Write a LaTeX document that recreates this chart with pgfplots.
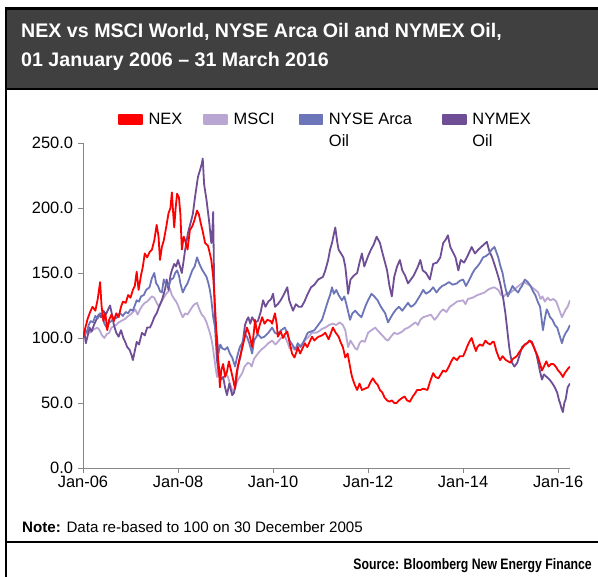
\documentclass[border=0pt]{standalone}
\usepackage{fontspec}
\setmainfont{Liberation Sans}
\usepackage{pgfplots}
\pgfplotsset{compat=1.18}
\definecolor{nexc}{HTML}{FF0000}
\definecolor{mscic}{HTML}{B9A6D2}
\definecolor{arcac}{HTML}{6C75B8}
\definecolor{nymexc}{HTML}{6F4E95}
\definecolor{banner}{HTML}{404040}
\definecolor{axisgray}{HTML}{868686}
\begin{document}
\begin{tikzpicture}[x=1bp,y=1bp]
\useasboundingbox (0,0) rectangle (598,577);
\fill[white] (0,0) rectangle (598,577);
\fill[banner] (6,488) rectangle (598,568.5);
\draw[black,line width=2.5bp] (6,568.5) -- (598,568.5);
\draw[black,line width=2.5bp] (6,488) -- (598,488);
\draw[black,line width=2.5bp] (6,0) -- (6,569.7);
\draw[black,line width=2bp] (6,35) -- (598,35);
\node[anchor=base west,inner sep=0pt,text=white,font=\fontsize{19.7}{22}\selectfont\bfseries] at (21,539) {NEX vs MSCI World, NYSE Arca Oil and NYMEX Oil,};
\node[anchor=base west,inner sep=0pt,text=white,font=\fontsize{19.7}{22}\selectfont\bfseries] at (21,510) {01 January 2006 – 31 March 2016};
\node[anchor=base west,inner sep=0pt,font=\fontsize{15.2}{17}\selectfont] at (22,44) {\textbf{Note:} Data re-based to 100 on 30 December 2005};
\node[anchor=base east,inner sep=0pt,font=\fontsize{15.2}{17}\selectfont\bfseries\addfontfeature{FakeStretch=0.81}] at (592,7) {Source: Bloomberg New Energy Finance};
\begin{axis}[
  at={(83bp,109bp)}, anchor=south west,
  scale only axis, width=487bp, height=325bp,
  xmin=2006, xmax=2016.25, ymin=0, ymax=250,
  axis x line*=bottom, axis y line*=left,
  axis line style={draw=axisgray, line width=0.8bp},
  tick style={draw=axisgray, line width=0.8bp},
  tick align=outside, major tick length=5bp,
  xtick={2006,2008,2010,2012,2014,2016},
  xticklabels={Jan-06,Jan-08,Jan-10,Jan-12,Jan-14,Jan-16},
  ytick={0,50,100,150,200,250},
  yticklabels={0.0,50.0,100.0,150.0,200.0,250.0},
  tick label style={font=\fontsize{16.5}{19}\selectfont},
  yticklabel style={xshift=-1.5bp},
  legend columns=4,
  legend style={draw=none, fill=none, inner sep=0pt, at={(0.0719,1.110)}, anchor=north west,
    font=\fontsize{16.5}{22}\selectfont,
    /tikz/every odd column/.append style={column sep=3.5bp},
    /tikz/column 2/.append style={column sep=19bp},
    /tikz/column 4/.append style={column sep=22bp},
    /tikz/column 6/.append style={column sep=28bp},
    cells={anchor=base west}},
  legend image code/.code={\fill[#1] (0bp,0.5bp) rectangle (23bp,10bp);},
  every axis plot/.append style={line width=1.8bp, line join=round},
]
\addlegendimage{nexc}
\addlegendentry{NEX}
\addlegendimage{mscic}
\addlegendentry{MSCI}
\addlegendimage{arcac}
\addlegendentry{\begin{tabular}[t]{@{}l@{}}NYSE Arca\\Oil\end{tabular}}
\addlegendimage{nymexc}
\addlegendentry{\begin{tabular}[t]{@{}l@{}}NYMEX\\Oil\end{tabular}}

% MSCI
\addplot[mscic, forget plot] coordinates {
(2006.00,100) (2006.05,103) (2006.10,105) (2006.15,104) (2006.20,106) (2006.25,107) (2006.30,108) (2006.35,106) (2006.40,102) (2006.45,100) (2006.50,103) (2006.55,104) (2006.60,108) (2006.65,109) (2006.70,110) (2006.75,112) (2006.80,113) (2006.85,114) (2006.90,115) (2006.95,117) (2007.00,118) (2007.05,120) (2007.10,122) (2007.15,118) (2007.20,122) (2007.25,125) (2007.30,127) (2007.35,128) (2007.40,130) (2007.45,132) (2007.50,131) (2007.55,127) (2007.60,124) (2007.65,128) (2007.70,131) (2007.75,134) (2007.80,136) (2007.83,138) (2007.87,133) (2007.92,130) (2007.96,128) (2008.00,125) (2008.05,120) (2008.10,116) (2008.15,119) (2008.20,118) (2008.25,121) (2008.30,124) (2008.35,126) (2008.40,127) (2008.45,122) (2008.50,118) (2008.55,116) (2008.60,112) (2008.67,104) (2008.71,98) (2008.74,91) (2008.78,80) (2008.82,70) (2008.85,75) (2008.88,73) (2008.92,77) (2008.95,77) (2009.00,73) (2009.05,70) (2009.10,64) (2009.16,58) (2009.20,62) (2009.25,67) (2009.30,70) (2009.35,73) (2009.40,78) (2009.47,81) (2009.52,80) (2009.55,78) (2009.60,84) (2009.68,88) (2009.75,91) (2009.82,93) (2009.90,96) (2009.98,98) (2010.05,95) (2010.10,97) (2010.17,100) (2010.25,101) (2010.30,97) (2010.35,92) (2010.40,93) (2010.45,91) (2010.52,93) (2010.60,95) (2010.67,98) (2010.75,101) (2010.82,104) (2010.90,104) (2010.96,105) (2011.03,107) (2011.10,108) (2011.18,110) (2011.26,111) (2011.33,110) (2011.40,112) (2011.47,110) (2011.52,106) (2011.58,93) (2011.63,98) (2011.68,95) (2011.73,92) (2011.77,91) (2011.82,96) (2011.87,98) (2011.93,97) (2012.00,104) (2012.07,106) (2012.15,108) (2012.22,105) (2012.30,102) (2012.37,99) (2012.42,98) (2012.48,101) (2012.55,104) (2012.62,103) (2012.72,105) (2012.78,107) (2012.85,108) (2012.92,110) (2013.00,112) (2013.05,110) (2013.10,114) (2013.16,116) (2013.25,117) (2013.32,118) (2013.40,114) (2013.45,116) (2013.52,120) (2013.58,122) (2013.65,120) (2013.72,124) (2013.80,126) (2013.87,128) (2014.00,129) (2014.05,126) (2014.10,130) (2014.20,131) (2014.30,133) (2014.38,134) (2014.45,135) (2014.52,137) (2014.57,138) (2014.65,139) (2014.70,138) (2014.74,137) (2014.80,133) (2014.86,132) (2014.93,135) (2015.00,135) (2015.07,137) (2015.13,139) (2015.20,141) (2015.27,143) (2015.33,142) (2015.38,141) (2015.45,139) (2015.52,137) (2015.58,135) (2015.63,130) (2015.67,132) (2015.72,128) (2015.78,131) (2015.83,129) (2015.90,130) (2015.96,128) (2016.02,122) (2016.08,116) (2016.12,119) (2016.16,122) (2016.20,124) (2016.25,129)
};
% NYMEX Oil
\addplot[nymexc, forget plot] coordinates {
(2006.00,100) (2006.03,104) (2006.06,96) (2006.10,102) (2006.14,108) (2006.18,105) (2006.23,110) (2006.28,114) (2006.33,118) (2006.38,116) (2006.43,121) (2006.48,118) (2006.53,122) (2006.57,125) (2006.61,118) (2006.65,110) (2006.70,104) (2006.75,101) (2006.80,106) (2006.85,100) (2006.90,96) (2006.93,93) (2006.98,91) (2007.02,87) (2007.05,83) (2007.09,90) (2007.13,97) (2007.18,95) (2007.24,104) (2007.30,102) (2007.35,108) (2007.41,108) (2007.46,112) (2007.50,116) (2007.55,119) (2007.60,124) (2007.66,129) (2007.70,134) (2007.73,138) (2007.76,145) (2007.80,137) (2007.84,148) (2007.87,152) (2007.92,157) (2007.96,155) (2008.00,160) (2008.04,155) (2008.08,150) (2008.12,160) (2008.15,168) (2008.21,181) (2008.26,188) (2008.31,195) (2008.36,209) (2008.42,224) (2008.47,230) (2008.50,234) (2008.52,238) (2008.55,218) (2008.60,206) (2008.66,188) (2008.70,173) (2008.72,180) (2008.74,197) (2008.76,140) (2008.78,108) (2008.82,83) (2008.86,72) (2008.90,68) (2008.95,70) (2008.99,62) (2009.03,56) (2009.08,65) (2009.14,56) (2009.18,58) (2009.22,66) (2009.26,78) (2009.31,85) (2009.36,96) (2009.41,110) (2009.45,114) (2009.48,116) (2009.52,111) (2009.56,116) (2009.62,112) (2009.68,113) (2009.74,120) (2009.79,129) (2009.84,124) (2009.90,128) (2009.96,130) (2010.00,134) (2010.04,124) (2010.10,126) (2010.16,129) (2010.22,133) (2010.30,139) (2010.34,129) (2010.38,125) (2010.42,121) (2010.48,126) (2010.54,124) (2010.60,124) (2010.66,128) (2010.73,134) (2010.80,139) (2010.87,141) (2010.95,145) (2011.05,147) (2011.10,152) (2011.16,160) (2011.20,168) (2011.24,173) (2011.28,180) (2011.31,185) (2011.35,174) (2011.38,168) (2011.43,165) (2011.48,162) (2011.52,155) (2011.55,145) (2011.58,134) (2011.63,145) (2011.70,148) (2011.77,150) (2011.82,158) (2011.87,165) (2011.92,155) (2012.00,163) (2012.06,168) (2012.12,172) (2012.18,178) (2012.25,173) (2012.32,163) (2012.40,152) (2012.45,140) (2012.50,132) (2012.55,147) (2012.61,155) (2012.67,160) (2012.72,152) (2012.78,148) (2012.84,142) (2012.90,145) (2012.96,148) (2013.05,155) (2013.10,160) (2013.15,152) (2013.22,150) (2013.30,145) (2013.37,157) (2013.45,158) (2013.52,162) (2013.58,173) (2013.64,176) (2013.68,179) (2013.73,170) (2013.80,165) (2013.84,162) (2013.90,152) (2013.95,160) (2014.02,158) (2014.08,162) (2014.13,166) (2014.18,170) (2014.25,165) (2014.32,168) (2014.38,170) (2014.44,172) (2014.50,174) (2014.55,167) (2014.60,163) (2014.63,160) (2014.70,152) (2014.75,146) (2014.78,142) (2014.82,135) (2014.85,129) (2014.89,119) (2014.93,106) (2014.97,93) (2015.00,86) (2015.03,81) (2015.08,78) (2015.14,81) (2015.20,88) (2015.24,93) (2015.30,95) (2015.35,96) (2015.40,98) (2015.45,97) (2015.50,92) (2015.54,88) (2015.58,81) (2015.62,74) (2015.66,68) (2015.70,72) (2015.76,70) (2015.82,68) (2015.88,65) (2015.93,62) (2015.98,58) (2016.02,52) (2016.04,50) (2016.07,46) (2016.10,43) (2016.13,50) (2016.16,53) (2016.20,62) (2016.25,65)
};
% NYSE Arca Oil
\addplot[arcac, forget plot] coordinates {
(2006.00,100) (2006.04,106) (2006.08,104) (2006.12,110) (2006.16,113) (2006.21,112) (2006.26,117) (2006.31,115) (2006.36,119) (2006.40,118) (2006.45,111) (2006.50,108) (2006.55,112) (2006.60,113) (2006.65,116) (2006.70,115) (2006.75,118) (2006.78,119) (2006.84,117) (2006.90,120) (2006.95,119) (2007.00,122) (2007.05,121) (2007.10,126) (2007.13,129) (2007.18,128) (2007.22,132) (2007.28,133) (2007.33,137) (2007.40,139) (2007.45,146) (2007.50,150) (2007.54,142) (2007.58,140) (2007.62,136) (2007.66,135) (2007.70,145) (2007.75,141) (2007.80,140) (2007.85,145) (2007.90,146) (2007.94,150) (2007.98,152) (2008.02,148) (2008.05,142) (2008.10,135) (2008.15,139) (2008.20,142) (2008.25,147) (2008.30,152) (2008.35,155) (2008.40,162) (2008.45,157) (2008.50,153) (2008.55,150) (2008.60,147) (2008.64,142) (2008.67,137) (2008.70,130) (2008.74,116) (2008.78,108) (2008.82,101) (2008.85,88) (2008.89,95) (2008.93,92) (2008.99,91) (2009.04,93) (2009.09,88) (2009.14,85) (2009.20,78) (2009.24,85) (2009.30,93) (2009.35,96) (2009.41,103) (2009.45,101) (2009.50,96) (2009.56,88) (2009.60,98) (2009.68,103) (2009.75,100) (2009.82,101) (2009.90,104) (2009.98,108) (2010.04,104) (2010.10,103) (2010.17,106) (2010.25,108) (2010.30,103) (2010.35,98) (2010.42,94) (2010.47,91) (2010.52,96) (2010.58,93) (2010.64,97) (2010.73,104) (2010.80,105) (2010.87,106) (2010.95,110) (2011.03,114) (2011.10,122) (2011.16,129) (2011.20,133) (2011.24,139) (2011.28,134) (2011.33,137) (2011.38,133) (2011.45,129) (2011.50,132) (2011.55,125) (2011.62,114) (2011.67,119) (2011.73,121) (2011.80,118) (2011.86,116) (2011.90,120) (2011.95,125) (2012.00,129) (2012.07,134) (2012.13,132) (2012.20,129) (2012.27,124) (2012.36,119) (2012.42,112) (2012.48,116) (2012.53,119) (2012.59,122) (2012.65,124) (2012.72,121) (2012.78,124) (2012.84,127) (2012.90,124) (2012.95,125) (2013.00,127) (2013.05,130) (2013.10,133) (2013.16,137) (2013.22,134) (2013.30,136) (2013.37,139) (2013.44,135) (2013.50,138) (2013.56,140) (2013.62,141) (2013.70,143) (2013.78,141) (2013.87,142) (2013.93,144) (2014.00,145) (2014.06,140) (2014.12,144) (2014.20,150) (2014.25,153) (2014.30,155) (2014.36,158) (2014.42,162) (2014.48,163) (2014.55,165) (2014.60,168) (2014.66,170) (2014.70,166) (2014.74,162) (2014.78,156) (2014.83,150) (2014.87,142) (2014.90,137) (2014.94,132) (2014.99,136) (2015.04,140) (2015.10,137) (2015.16,135) (2015.20,138) (2015.24,140) (2015.30,145) (2015.36,143) (2015.42,140) (2015.47,136) (2015.52,133) (2015.57,128) (2015.62,124) (2015.65,115) (2015.68,106) (2015.72,115) (2015.76,122) (2015.80,119) (2015.83,116) (2015.88,114) (2015.93,110) (2015.98,108) (2016.03,102) (2016.08,96) (2016.12,101) (2016.16,104) (2016.20,106) (2016.25,110)
};
% NEX
\addplot[nexc, forget plot] coordinates {
(2006.00,100) (2006.05,108) (2006.10,115) (2006.15,120) (2006.20,124) (2006.26,121) (2006.31,130) (2006.36,143) (2006.39,125) (2006.43,113) (2006.47,119) (2006.51,106) (2006.55,114) (2006.60,118) (2006.65,113) (2006.70,119) (2006.75,116) (2006.80,124) (2006.84,128) (2006.90,127) (2006.95,133) (2007.00,131) (2007.05,137) (2007.09,140) (2007.13,151) (2007.17,137) (2007.22,148) (2007.26,155) (2007.30,165) (2007.35,162) (2007.40,166) (2007.45,168) (2007.50,175) (2007.55,187) (2007.59,178) (2007.62,160) (2007.66,170) (2007.70,175) (2007.75,185) (2007.80,196) (2007.84,200) (2007.87,212) (2007.90,195) (2007.92,185) (2007.95,200) (2007.98,211) (2008.02,208) (2008.05,195) (2008.08,168) (2008.12,178) (2008.15,175) (2008.20,168) (2008.25,183) (2008.30,186) (2008.34,190) (2008.40,198) (2008.44,195) (2008.48,188) (2008.52,182) (2008.57,173) (2008.63,171) (2008.67,165) (2008.70,160) (2008.74,147) (2008.77,130) (2008.80,110) (2008.83,90) (2008.86,78) (2008.88,62) (2008.91,75) (2008.95,80) (2008.99,70) (2009.03,74) (2009.07,82) (2009.11,76) (2009.16,68) (2009.20,61) (2009.23,73) (2009.27,80) (2009.30,85) (2009.35,92) (2009.40,100) (2009.45,108) (2009.50,103) (2009.56,93) (2009.60,106) (2009.62,114) (2009.67,103) (2009.72,110) (2009.77,116) (2009.82,111) (2009.88,114) (2009.95,113) (2009.98,111) (2010.04,119) (2010.08,110) (2010.10,101) (2010.16,105) (2010.21,100) (2010.25,103) (2010.30,105) (2010.35,96) (2010.40,88) (2010.45,85) (2010.50,90) (2010.52,93) (2010.57,88) (2010.62,92) (2010.67,96) (2010.72,93) (2010.77,97) (2010.82,101) (2010.87,98) (2010.92,100) (2010.96,101) (2011.03,102) (2011.10,104) (2011.17,99) (2011.22,104) (2011.26,108) (2011.32,104) (2011.38,101) (2011.43,96) (2011.47,93) (2011.52,85) (2011.57,88) (2011.62,78) (2011.65,72) (2011.68,68) (2011.72,64) (2011.77,60) (2011.82,65) (2011.87,60) (2011.93,61) (2012.00,62) (2012.05,66) (2012.10,69) (2012.15,66) (2012.20,64) (2012.25,60) (2012.30,58) (2012.35,54) (2012.40,52) (2012.45,51) (2012.50,52) (2012.55,50) (2012.60,50) (2012.65,52) (2012.72,54) (2012.77,55) (2012.82,52) (2012.88,51) (2012.94,55) (2013.00,58) (2013.03,60) (2013.10,60) (2013.16,61) (2013.25,60) (2013.30,66) (2013.37,73) (2013.42,70) (2013.48,69) (2013.53,72) (2013.58,75) (2013.64,74) (2013.70,78) (2013.75,82) (2013.80,85) (2013.87,83) (2013.93,86) (2014.00,86) (2014.05,90) (2014.08,93) (2014.13,97) (2014.18,100) (2014.23,94) (2014.27,90) (2014.30,93) (2014.35,95) (2014.41,94) (2014.47,98) (2014.52,96) (2014.57,95) (2014.62,97) (2014.65,97) (2014.70,90) (2014.75,85) (2014.78,83) (2014.83,86) (2014.90,83) (2014.95,82) (2014.99,81) (2015.05,84) (2015.13,86) (2015.18,89) (2015.24,92) (2015.30,95) (2015.35,96) (2015.40,98) (2015.45,96) (2015.50,92) (2015.52,90) (2015.57,86) (2015.62,80) (2015.66,75) (2015.70,78) (2015.75,82) (2015.80,78) (2015.85,80) (2015.90,80) (2015.95,78) (2016.00,75) (2016.05,73) (2016.10,70) (2016.14,73) (2016.18,75) (2016.22,77) (2016.25,78)
};
\end{axis}
\end{tikzpicture}
\end{document}
